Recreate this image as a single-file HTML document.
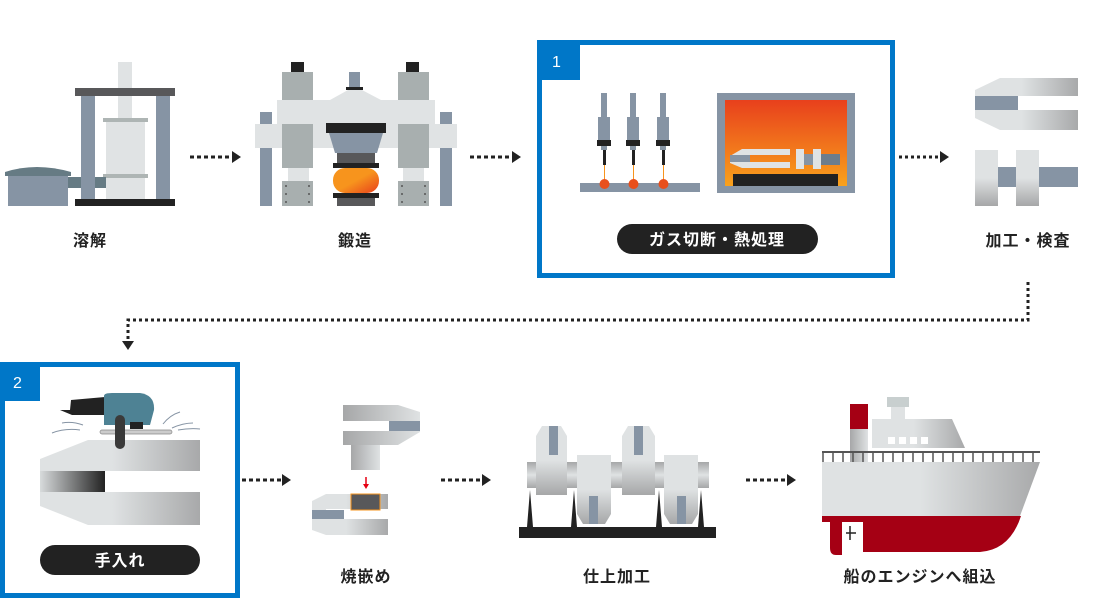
<!DOCTYPE html>
<html><head><meta charset="utf-8"><style>
html,body{margin:0;padding:0;background:#fff;width:1101px;height:600px;overflow:hidden}
svg{display:block}
text{font-family:"Liberation Sans","Noto Sans CJK JP",sans-serif;font-weight:bold;fill:#222;font-size:16px;letter-spacing:1px}
</style></head><body>
<svg width="1101" height="600" viewBox="0 0 1101 600" xmlns="http://www.w3.org/2000/svg">
<defs>
<linearGradient id="gh" x1="0" x2="1" y1="0" y2="0"><stop offset="0" stop-color="#dfe2e3"/><stop offset="0.45" stop-color="#dfe2e3"/><stop offset="1" stop-color="#a8a9aa"/></linearGradient>
<linearGradient id="gv" x1="0" x2="0" y1="0" y2="1"><stop offset="0" stop-color="#dfe2e3"/><stop offset="0.5" stop-color="#dfe2e3"/><stop offset="1" stop-color="#a6a7a8"/></linearGradient>
<linearGradient id="gv2" x1="0" x2="0" y1="0" y2="1"><stop offset="0" stop-color="#a6a7a8"/><stop offset="0.5" stop-color="#dfe2e3"/><stop offset="1" stop-color="#a6a7a8"/></linearGradient>
<linearGradient id="gh2" x1="0" x2="1"><stop offset="0" stop-color="#a6a7a8"/><stop offset="1" stop-color="#dfe2e3"/></linearGradient>
<linearGradient id="fire" x1="0" x2="0" y1="0" y2="1"><stop offset="0" stop-color="#e8401c"/><stop offset="1" stop-color="#f9a21c"/></linearGradient>
<linearGradient id="hot" x1="0" x2="1" y1="0" y2="1"><stop offset="0" stop-color="#f7941d"/><stop offset="0.5" stop-color="#f7941d"/><stop offset="1" stop-color="#e8401c"/></linearGradient>
<linearGradient id="dk" x1="0" x2="1"><stop offset="0" stop-color="#d8dbdc"/><stop offset="1" stop-color="#222"/></linearGradient>
</defs>

<!-- 溶解 -->
<rect x="118" y="62" width="14" height="60" fill="#e0e3e4"/>
<rect x="75" y="88" width="100" height="8" fill="#58585a"/>
<rect x="81" y="96" width="14" height="104" fill="#8694a4"/>
<rect x="156" y="96" width="14" height="104" fill="#8694a4"/>
<rect x="106" y="120" width="39" height="80" fill="#e0e3e4"/>
<rect x="103" y="118" width="45" height="4" fill="#aeb5b4"/>
<rect x="103" y="174" width="45" height="4" fill="#aeb5b4"/>
<rect x="68" y="177" width="13" height="11" fill="#667b84"/><rect x="95" y="177" width="11" height="11" fill="#667b84"/>
<rect x="8" y="172" width="60" height="34" fill="#8694a4"/>
<path d="M5 172 Q36 162 71 172 L71 176 L5 176Z" fill="#667b84"/>
<rect x="75" y="199" width="100" height="7" fill="#222"/>
<text x="73" y="246">溶解</text>

<g fill="#222"><line x1="190" y1="157" x2="233" y2="157" stroke="#222" stroke-width="3" stroke-dasharray="4,3"/><path d="M232 151 L241 157 L232 163Z"/></g>

<!-- 鍛造 -->
<rect x="291" y="62" width="13" height="10" fill="#222"/><rect x="406" y="62" width="13" height="10" fill="#222"/>
<rect x="282" y="72" width="31" height="30" fill="#a8afaf"/><rect x="398" y="72" width="31" height="30" fill="#a8afaf"/>
<rect x="349" y="72" width="11" height="16" fill="#8694a4"/><rect x="346" y="87" width="17" height="3" fill="#222"/>
<path d="M277 100 L330 100 L348 90 L362 90 L381 100 L435 100 L435 124 L277 124Z" fill="#e0e3e4"/>
<rect x="260" y="112" width="12" height="94" fill="#8694a4"/><rect x="440" y="112" width="12" height="94" fill="#8694a4"/>
<rect x="255" y="124" width="202" height="24" fill="#e0e3e4"/>
<rect x="282" y="124" width="31" height="44" fill="#a8afaf"/><rect x="398" y="124" width="31" height="44" fill="#a8afaf"/>
<rect x="288" y="168" width="21" height="13" fill="#e0e3e4"/><rect x="403" y="168" width="21" height="13" fill="#e0e3e4"/>
<rect x="282" y="181" width="31" height="25" fill="#a8afaf"/><rect x="398" y="181" width="31" height="25" fill="#a8afaf"/>
<g fill="#555"><circle cx="286" cy="186" r="1"/><circle cx="309" cy="186" r="1"/><circle cx="286" cy="194" r="1"/><circle cx="309" cy="194" r="1"/><circle cx="286" cy="202" r="1"/><circle cx="309" cy="202" r="1"/><circle cx="402" cy="186" r="1"/><circle cx="425" cy="186" r="1"/><circle cx="402" cy="194" r="1"/><circle cx="425" cy="194" r="1"/><circle cx="402" cy="202" r="1"/><circle cx="425" cy="202" r="1"/></g>
<rect x="326" y="123" width="60" height="10" fill="#222"/>
<path d="M329 133 L383 133 L377 153 L335 153Z" fill="#8694a4"/>
<rect x="337" y="153" width="38" height="10" fill="#58585a"/>
<rect x="333" y="163" width="46" height="5" fill="#222"/>
<rect x="333" y="168" width="46" height="25" rx="12" fill="url(#hot)"/>
<rect x="333" y="193" width="46" height="5" fill="#222"/>
<rect x="337" y="198" width="38" height="8" fill="#58585a"/>
<text x="338" y="246">鍛造</text>

<g><line x1="470" y1="157" x2="513" y2="157" stroke="#222" stroke-width="3" stroke-dasharray="4,3"/><path d="M512 151 L521 157 L512 163Z" fill="#222"/></g>

<!-- box 1 -->
<rect x="539.5" y="42.5" width="353" height="233" fill="none" stroke="#0077c8" stroke-width="5"/>
<rect x="537" y="40" width="43" height="40" fill="#0077c8"/>
<text x="552" y="67" style="fill:#fff;font-weight:normal;font-size:16px">1</text>
<g>
<rect x="580" y="183" width="120" height="9" fill="#8694a4"/>
<g id="t"><rect x="601" y="93" width="6" height="24" fill="#8694a4"/><rect x="598" y="117" width="12" height="23" fill="#8694a4"/><rect x="597" y="140" width="14" height="6" fill="#222"/><rect x="601" y="146" width="6" height="4" fill="#8694a4"/><rect x="603" y="150" width="3" height="15" fill="#222"/><rect x="604" y="165" width="1" height="18" fill="#f7941d"/><circle cx="604.5" cy="184" r="5" fill="#e8501c"/></g>
<use href="#t" x="29"/><use href="#t" x="59"/>
<rect x="717" y="93" width="138" height="100" fill="#8694a4"/>
<rect x="725" y="100" width="122" height="86" fill="url(#fire)"/>
<path d="M730 156 L742 149 L790 149 L790 155 L748 155 L748 162 L790 162 L790 168 L742 168 L730 163Z" fill="#e0e3e4"/>
<rect x="730" y="155" width="20" height="7" fill="#8694a4"/>
<rect x="796" y="149" width="8" height="20" fill="#e0e3e4"/><rect x="813" y="149" width="8" height="20" fill="#e0e3e4"/>
<rect x="804" y="154" width="9" height="11" fill="#8694a4"/><rect x="821" y="154" width="19" height="11" fill="#6c7d8d"/>
<rect x="733" y="174" width="105" height="12" fill="#222"/>
</g>
<rect x="617" y="224" width="201" height="30" rx="15" fill="#222"/>
<text x="717" y="245" text-anchor="middle" style="fill:#fff">ガス切断・熱処理</text>

<g><line x1="899" y1="157" x2="941" y2="157" stroke="#222" stroke-width="3" stroke-dasharray="3,3"/><path d="M940 151 L949 157 L940 163Z" fill="#222"/></g>

<!-- 加工・検査 -->
<path d="M975 90 L1000 78 L1078 78 L1078 96 L1018 96 L1018 110 L1078 110 L1078 130 L1000 130 L975 118Z" fill="url(#gh)"/>
<rect x="975" y="96" width="43" height="14" fill="#8694a4"/>
<rect x="998" y="167" width="80" height="20" fill="#8694a4"/>
<rect x="975" y="150" width="23" height="56" fill="url(#gv)"/><rect x="1016" y="150" width="23" height="56" fill="url(#gv)"/>
<text x="1028" y="246" text-anchor="middle">加工・検査</text>

<path d="M1028 282 L1028 320 L128 320 L128 340" fill="none" stroke="#222" stroke-width="3" stroke-dasharray="3,3"/>
<path d="M122 341 L128 350 L134 341Z" fill="#222"/>

<!-- box 2 -->
<rect x="2.5" y="364.5" width="235" height="231" fill="none" stroke="#0077c8" stroke-width="5"/>
<rect x="0" y="362" width="40" height="39" fill="#0077c8"/>
<text x="13" y="388" style="fill:#fff;font-weight:normal">2</text>
<path d="M40 459 L88 440 L200 440 L200 471 L105 471 L105 492 L200 492 L200 525 L88 525 L40 506Z" fill="url(#gh)"/>
<rect x="40" y="471" width="65" height="21" fill="url(#dk)"/>
<rect x="100" y="430" width="72" height="4" rx="2" fill="#ccc" stroke="#888" stroke-width="0.7"/>
<path d="M60 410 L70 410 L71 400 L105 397 L105 415 L72 415Z" fill="#222"/>
<path d="M104 396 Q104 393 112 393 L140 393 Q155 395 154 410 L150 425 L104 425Z" fill="#4e8294"/>
<rect x="130" y="422" width="13" height="7" fill="#222"/>
<rect x="115" y="415" width="10" height="34" rx="5" fill="#3a3a3a"/>
<g stroke="#8694a4" fill="none" stroke-width="1"><path d="M52 433 Q65 428 80 430"/><path d="M62 423 Q72 421 83 425"/><path d="M163 424 Q170 415 180 412"/><path d="M172 428 Q183 423 193 423"/><path d="M178 430 Q190 428 200 429"/></g>
<rect x="40" y="545" width="160" height="30" rx="15" fill="#222"/>
<text x="120" y="566" text-anchor="middle" style="fill:#fff">手入れ</text>

<g><line x1="242" y1="480" x2="282" y2="480" stroke="#222" stroke-width="3" stroke-dasharray="4,3"/><path d="M282 474 L291 480 L282 486Z" fill="#222"/></g>

<!-- 焼嵌め -->
<path d="M343 405 L398 405 L420 412 L420 432 L398 445 L343 445 L343 431 L398 431 L398 421 L343 421Z" fill="url(#gh2)"/>
<rect x="389" y="421" width="31" height="10" fill="#8694a4"/>
<rect x="351" y="445" width="29" height="25" fill="url(#gh2)"/>
<path d="M366 477 L366 486" stroke="#e60012" stroke-width="1.5"/><path d="M363 484 L366 489 L369 484Z" fill="#e60012"/>
<path d="M312 501 L326 494 L388 494 L388 509 L326 509 L326 519 L388 519 L388 535 L326 535 L312 530Z" fill="url(#gh)"/>
<rect x="312" y="510" width="32" height="9" fill="#8694a4"/>
<rect x="351" y="494" width="29" height="16" fill="#58585a" stroke="#f7941d" stroke-width="1"/>
<text x="366" y="582" text-anchor="middle">焼嵌め</text>

<g><line x1="441" y1="480" x2="482" y2="480" stroke="#222" stroke-width="3" stroke-dasharray="4,3"/><path d="M482 474 L491 480 L482 486Z" fill="#222"/></g>

<!-- 仕上加工 -->
<g>
<rect x="527" y="462" width="182" height="26" fill="url(#gv2)"/>
<path d="M536 436 L542 426 L561 426 L567 436 L567 495 L536 495Z" fill="url(#gv)"/>
<rect x="549" y="426" width="9" height="29" fill="#8694a4"/>
<path d="M622 436 L628 426 L649 426 L655 436 L655 495 L622 495Z" fill="url(#gv)"/>
<rect x="634" y="426" width="9" height="29" fill="#8694a4"/>
<path d="M577 455 L611 455 L611 514 L605 524 L583 524 L577 514Z" fill="url(#gv)"/>
<rect x="589" y="496" width="9" height="28" fill="#8694a4"/>
<path d="M664 455 L698 455 L698 514 L692 524 L670 524 L664 514Z" fill="url(#gv)"/>
<rect x="677" y="496" width="9" height="28" fill="#8694a4"/>
<g fill="#222"><path d="M527 527 L530 490 L533 527Z"/><path d="M571 527 L574 490 L577 527Z"/><path d="M656 527 L659 490 L662 527Z"/><path d="M698 527 L701 490 L704 527Z"/></g>
<rect x="519" y="527" width="197" height="11" fill="#222"/>
</g>
<text x="617" y="582" text-anchor="middle">仕上加工</text>

<g><line x1="746" y1="480" x2="787" y2="480" stroke="#222" stroke-width="3" stroke-dasharray="4,3"/><path d="M787 474 L796 480 L787 486Z" fill="#222"/></g>

<!-- ship -->
<rect x="850" y="404" width="18" height="25" fill="#a50014"/>
<rect x="850" y="429" width="18" height="35" fill="url(#gh2)"/>
<rect x="887" y="397" width="22" height="10" fill="#c8cfcf"/>
<rect x="891" y="407" width="14" height="12" fill="#dfe2e3"/>
<path d="M872 419 L952 419 L965 448 L872 448Z" fill="url(#gh)"/>
<g fill="#fff"><rect x="888" y="437" width="7" height="7"/><rect x="899" y="437" width="7" height="7"/><rect x="910" y="437" width="7" height="7"/><rect x="921" y="437" width="7" height="7"/></g>
<path d="M822 462 L1040 462 L1020 516 L822 516Z" fill="url(#gh)"/>
<path d="M822 452 L1040 452" stroke="#555" stroke-width="2"/>
<g stroke="#555" stroke-width="1.5"><path d="M823 452v10M833 452v10M843 452v10M853 452v10M863 452v10M873 452v10M883 452v10M893 452v10M903 452v10M913 452v10M923 452v10M933 452v10M943 452v10M953 452v10M963 452v10M973 452v10M983 452v10M993 452v10M1003 452v10M1013 452v10M1023 452v10M1033 452v10"/></g>
<path d="M822 516 L1021 516 Q1010 550 980 552 L863 552 L863 522 L822 522Z" fill="#a50014"/>
<path d="M830 522 L842 522 L842 555 L836 555 Q830 555 830 548Z" fill="#a50014"/>
<path d="M850 526 V540 M846 533 H856" stroke="#222" stroke-width="1.5"/>
<text x="920" y="582" text-anchor="middle">船のエンジンへ組込</text>
</svg>
</body></html>
